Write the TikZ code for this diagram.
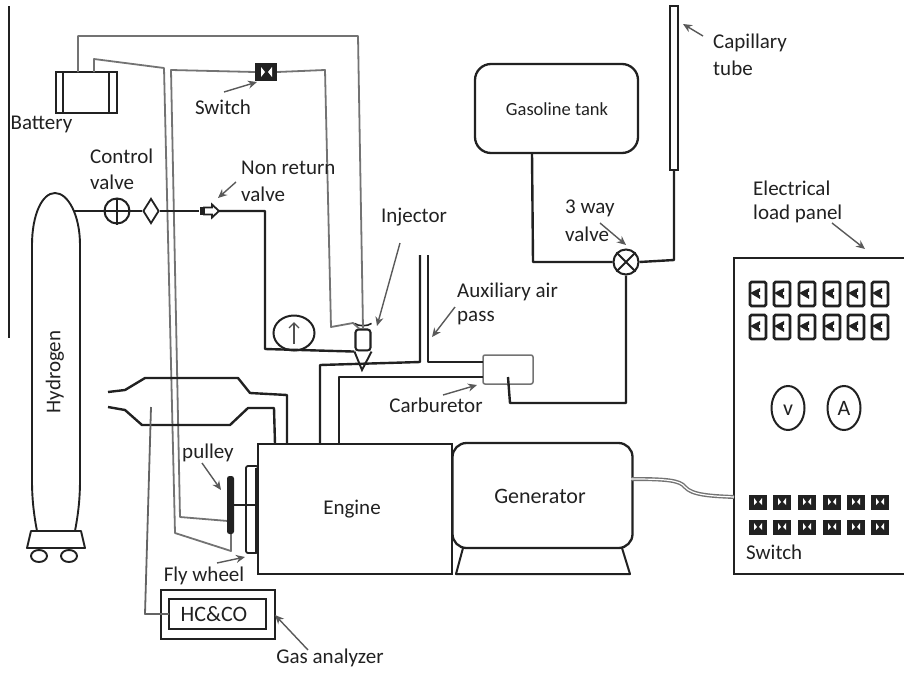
\documentclass[tikz,border=0pt]{standalone}
\usepackage{fontspec}
\setmainfont{Carlito}
\usetikzlibrary{arrows.meta,shapes.geometric}
\definecolor{ink}{gray}{0.13}
\definecolor{wirec}{gray}{0.45}
\definecolor{arrc}{gray}{0.35}
\tikzset{
 pipe/.style={draw=ink,line width=2.4pt,line join=round},
 wire/.style={draw=wirec,line width=1.8pt,line join=round},
 lbl/.style={font=\fontsize{21}{23}\selectfont,text=ink,inner sep=0pt},
 lblw/.style={lbl,anchor=west},
 note/.style={draw=arrc,line width=1.4pt,-{Stealth[length=9pt,width=8pt]}},
 box/.style={draw=ink,line width=2.3pt,inner sep=0pt,outer sep=0pt},
 swtop/.style={draw=ink,line width=2.6pt,rounded corners=1.5pt,minimum width=16pt,minimum height=24pt,inner sep=0pt},
 swdark/.style={fill=ink,draw=ink,minimum width=17pt,minimum height=14pt,inner sep=0pt},
 meter/.style={ellipse,draw=ink,line width=2pt,minimum width=33pt,minimum height=44pt,inner sep=0pt},
}
\begin{document}
\begin{tikzpicture}[x=1pt,y=-1pt]
\useasboundingbox (0,0) rectangle (904,672);
% left margin rule
\coordinate (ruleA) at (9,6); \coordinate (ruleB) at (9,338);
\draw[draw=ink,line width=1.1pt] (ruleA) -- (ruleB);

% Battery
\node[box,minimum width=61pt,minimum height=41pt] (battery) at (86.5,92.5) {};
\draw[box] ([xshift=7pt]battery.north west) -- ([xshift=7pt]battery.south west);
\draw[box] ([xshift=-8pt]battery.north east) -- ([xshift=-8pt]battery.south east);
\node[lbl] (batteryl) at (41.5,124) {Battery};

% Injector
\node[draw=ink,line width=2.1pt,rounded corners=3pt,fill=white,minimum width=15pt,minimum height=21pt,inner sep=0pt] (injector) at (363,340) {};
\coordinate (injtip) at (362,370);
\draw[draw=ink,line width=1.9pt,fill=white] (injector.south west) -- (injtip) -- (injector.south east);
\draw[draw=ink,line width=1.6pt] ([yshift=5pt]injector.north west) .. controls +(4,3) and +(-4,3) .. ([yshift=5pt]injector.north east);

% Switch at top
\node[fill=ink,minimum width=22pt,minimum height=18pt,inner sep=0pt] (switchtop) at (266,72) {};
\fill[white] (261,67) -- (265,72) -- (261,77) -- cycle (272,67) -- (268,72) -- (272,77) -- cycle;
\node[lbl] (switchl) at (223,107) {Switch};

% Wires
\coordinate (w1a) at (358,36); \coordinate (w1b) at (78,36);
\draw[wire] ([xshift=-8.5pt]battery.north) -- (w1b) -- (w1a) -- (injector.north);
\coordinate (w2a) at (94,59); \coordinate (w2b) at (164,68); \coordinate (w2c) at (175,533);
\coordinate (w2d) at (231,551); \coordinate (w2e) at (231,530);
\draw[wire] ([xshift=7.5pt]battery.north) -- (w2a) -- (w2b) -- (w2c) -- (w2d) -- (w2e);
\coordinate (w3a) at (171,70); \coordinate (w3b) at (180,517); \coordinate (w3c) at (228,521);
\draw[wire] (w3c) -- (w3b) -- (w3a) -- (switchtop.west);
\coordinate (w3d) at (325,70); \coordinate (w3e) at (331,327); \coordinate (w3f) at (353,323);
\draw[wire] (switchtop.east) -- (w3d) -- (w3e) -- (w3f) -- ([xshift=-4pt]injector.north);

% Hydrogen cylinder
\node[lbl,rotate=90] (hydrogen) at (55,372) {Hydrogen};
\coordinate (hyL) at (37,531); \coordinate (hyR) at (75,531);
\draw[pipe,line width=1.9pt] (hyL) .. controls (33,510) and (32,495) .. (32,480) -- (32,245)
  .. controls (32,215) and (42,193) .. (55,193) .. controls (68,193) and (80,215) .. (80,245)
  -- (80,480) .. controls (80,500) and (78,515) .. (hyR);
\draw[pipe,line width=1.9pt] (31,531) -- (81,531) -- (85,548) -- (27,548) -- cycle;
\node[ellipse,draw=ink,line width=1.9pt,minimum width=16pt,minimum height=12pt,inner sep=0pt] (wheelL) at (39,556) {};
\node[ellipse,draw=ink,line width=1.9pt,minimum width=16pt,minimum height=12pt,inner sep=0pt] (wheelR) at (69,556) {};

% Hydrogen line and valves
\coordinate (h0) at (74,211); \coordinate (h1) at (265,211); \coordinate (h2) at (265,349);
\node[circle,draw=ink,line width=2pt,fill=white,minimum size=25pt,inner sep=0pt] (cvalve) at (117,211) {};
\node[diamond,draw=ink,line width=1.8pt,fill=white,minimum width=16pt,minimum height=25pt,inner sep=0pt] (dvalve) at (151,211) {};
\node[fill=ink,minimum width=5pt,minimum height=8pt,inner sep=0pt] (nrv) at (202,211) {};
\coordinate (nrvtip) at (219,211);
\node[ellipse,draw=ink,line width=2pt,minimum width=41pt,minimum height=35pt,inner sep=0pt] (pump) at (294,333) {};
\draw[pipe] (h0) -- (cvalve.west) (cvalve.east) -- (dvalve.west) (dvalve.east) -- (nrv.west);
\draw[pipe] (nrvtip) -- (h1) -- (h2) -- (injector.south west);
\draw[draw=ink,line width=1.7pt] (cvalve.north) -- (cvalve.south) (cvalve.west) -- (cvalve.east);
\draw[draw=ink,line width=1.8pt,fill=white] (204,207.5) -- (212,207.5) -- (212,204.5) -- (nrvtip) -- (212,217.5) -- (212,214.5) -- (204,214.5) -- cycle;
\coordinate (parrowA) at (294,344); \coordinate (parrowB) at (294,322);
\draw[draw=wirec!70!black,line width=1.4pt,-{Straight Barb[length=5pt,width=10pt]}] (parrowA) -- (parrowB);

% Engine and generator
\node[box,minimum width=194pt,minimum height=130pt] (engine) at (355,509) {};
\node[lbl] (enginel) at (352,509) {Engine};
\node[box,rounded corners=14pt,minimum width=180pt,minimum height=105pt] (generator) at (542.5,495.5) {};
\node[lbl,font=\fontsize{22}{24}\selectfont] (generatorl) at (540,496) {Generator};
\coordinate (st1) at (463,548); \coordinate (st2) at (456,574); \coordinate (st3) at (630,574); \coordinate (st4) at (622,548);
\draw[pipe,line width=2pt] (st1) -- (st2) -- (st3) -- (st4);

% Intake pipes and carburetor
\node[draw=wirec,line width=1.5pt,rounded corners=2pt,minimum width=50pt,minimum height=29pt,inner sep=0pt] (carb) at (508,369.5) {};
\coordinate (i1) at (320,444); \coordinate (i2) at (320,365); \coordinate (i3) at (420,362); \coordinate (i4) at (420,255);
\coordinate (i5) at (428,255); \coordinate (i6) at (428,362);
\coordinate (i7) at (339,444); \coordinate (i8) at (339,377);
\draw[pipe] (i1) -- (i2) -- (i3) -- (i4);
\draw[pipe] (i5) -- (i6) -- (483,362);
\draw[pipe] (i7) -- (i8) -- (483,377);
\node[lbl] (carbl) at (436,405) {Carburetor};

% Gasoline tank and 3 way valve
\node[box,rounded corners=16pt,minimum width=163pt,minimum height=89pt] (tank) at (556.5,108.5) {};
\node[lbl,font=\fontsize{18.5}{20}\selectfont] (tankl) at (557,109) {Gasoline tank};
\node[circle,draw=ink,line width=2pt,minimum size=25pt,inner sep=0pt] (tway) at (626,262) {};
\draw[draw=ink,line width=1.8pt] (tway.north west) -- (tway.south east) (tway.north east) -- (tway.south west);
\node[draw=ink,line width=2pt,fill=white,minimum width=8pt,minimum height=164pt,inner sep=0pt] (capillary) at (674,88) {};
\coordinate (g1) at (533,262);
\draw[pipe] (532,153) -- (g1) -- (tway.west);
\coordinate (g2) at (674,260);
\draw[pipe] (tway.east) -- (g2) -- (capillary.south);
\coordinate (c1) at (626,403); \coordinate (c2) at (510,403); \coordinate (c3) at (508,377);
\draw[pipe] (tway.south) -- (c1) -- (c2) -- (c3);

% Exhaust
\coordinate (ex0) at (108,392); \coordinate (ex7) at (108,407);
\draw[pipe] (ex0) -- (125,390) -- (145,378) -- (238,378) -- (250,393) -- (287,395) -- (287,444);
\draw[pipe] (ex7) -- (125,410) -- (142,425) -- (230,425) -- (248,408) -- (274,408) -- (275,444);

% Flywheel and pulley
\node[draw=ink,line width=1.8pt,minimum width=12pt,minimum height=87pt,rounded corners=2pt,inner sep=0pt] (flywheel) at (252,509.5) {};
\fill[ink] (255,468) rectangle (259,552);
\node[fill=ink,rounded corners=2.5pt,minimum width=7pt,minimum height=58pt,inner sep=0pt] (pulley) at (230.5,505) {};
\draw[draw=ink,line width=2.8pt] (pulley.center) -- (pulley.center -| flywheel.east);
\node[lbl] (pulleyl) at (208,453) {pulley};
\node[lbl] (flyl) at (204,576) {Fly wheel};

% Gas analyzer
\node[box,minimum width=114pt,minimum height=49pt] (outerA) at (218,614.5) {};
\node[box,fill=white,minimum width=97pt,minimum height=30pt] (hcco) at (217.5,614) {};
\node[lbl,font=\fontsize{22}{24}\selectfont] at (214,614) (hcco2) {HC\&CO};
\coordinate (p1) at (151,407); \coordinate (p2) at (145,614);
\draw[wire,draw=ink!70] (p1) -- (p2) -- (hcco.west);
\node[lbl] (gasl) at (330,658) {Gas analyzer};

% Cable generator to panel
\node[box,minimum width=172pt,minimum height=316pt] (panel) at (820,416) {};
\coordinate (k1) at (631,479);\coordinate (k2) at (734,497);
\draw[draw=wirec,line width=4pt] (k1) .. controls (665,479) and (680,480) .. (685,487) .. controls (692,495) and (710,496) .. (k2);
\draw[draw=white,line width=1.2pt] (k1) .. controls (665,479) and (680,480) .. (685,487) .. controls (692,495) and (710,496) .. (k2);

% Panel contents
\foreach \n/\x in {1/758,2/782,3/807,4/832,5/856,6/880}{
  \foreach \r/\y in {a/294,b/327}{
    \node[swtop] (t\r\n) at (\x,\y) {};
    \fill[ink] (\x-8,\y-1) -- (\x+2,\y-6) -- (\x+2,\y+5) -- cycle;
    \fill[white] (\x+0.5,\y-2) rectangle (\x+2.5,\y+1);
  }
  \foreach \r/\y in {c/502,d/527}{
    \node[swdark] (d\r\n) at (\x,\y) {};
    \fill[white] (\x-4,\y-4) -- (\x-1,\y) -- (\x-4,\y+3) -- cycle (\x+4,\y-4) -- (\x+1,\y) -- (\x+4,\y+3) -- cycle;
  }
}
\node[meter] (vm) at (788,408) {};
\node[lbl,font=\fontsize{22}{24}\selectfont] (vml) at (788,410) {v};
\node[meter] (am) at (844,408) {};
\node[lbl,font=\fontsize{22}{24}\selectfont] (aml) at (844,408) {A};

% Labels
\node[lblw] (cv1) at (90,156) {Control};
\node[lblw] (cv2) at (90,182) {valve};
\node[lblw] (nr1) at (241,168) {Non return};
\node[lblw] (nr2) at (241,194) {valve};
\node[lbl] (injl) at (414,217) {Injector};
\node[lblw] (cap1) at (713,43) {Capillary};
\node[lblw] (cap2) at (713,68) {tube};
\node[lblw] (tw1) at (565,208) {3 way};
\node[lblw] (tw2) at (565,234) {valve};
\node[lblw] (el1) at (753,188) {Electrical};
\node[lblw] (el2) at (753,214) {load panel};
\node[lblw] (ax1) at (457,292) {Auxiliary air};
\node[lblw] (ax2) at (457,318) {pass};
\node[lblw] (swp) at (746,552) {Switch};

% Callout arrows
\coordinate (t1) at (257,82);   \draw[note] (224,92) -- (t1);
\coordinate (t2) at (218,198);  \draw[note] (236,182) -- (t2);
\coordinate (t3) at (377,326);  \draw[note] (400,243) -- (t3);
\coordinate (t4) at (683,24);   \draw[note] (703,36) -- (t4);
\coordinate (t5) at (626,245);  \draw[note] (600,223) -- (t5);
\coordinate (t6) at (865,249);  \draw[note] (832,223) -- (t6);
\coordinate (t7) at (432,337);  \draw[note] (455,307) -- (t7);
\coordinate (t8) at (477,385);  \draw[note] (443,395) -- (t8);
\coordinate (t9) at (221,490);  \draw[note] (202,463) -- (t9);
\coordinate (t10) at (245,557); \draw[note] (217,563) -- (t10);
\coordinate (t11) at (275,615); \draw[note] (308,650) -- (t11);
\end{tikzpicture}
\end{document}
